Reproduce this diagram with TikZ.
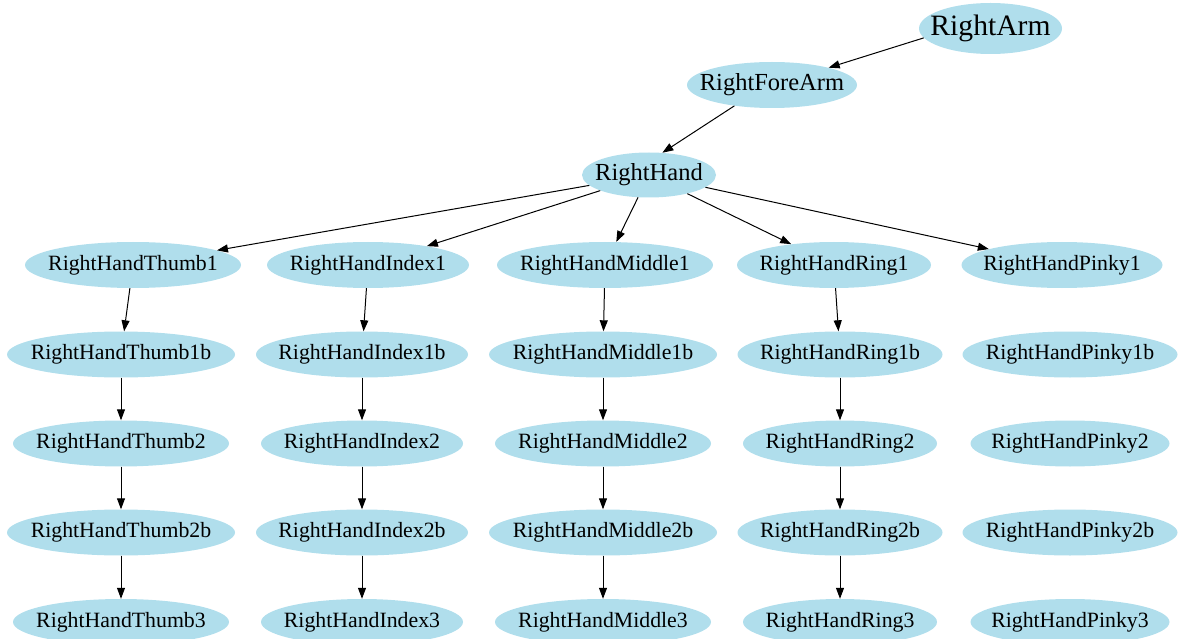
\documentclass[tikz,border=0pt]{standalone}
\usepackage{fontspec}
\setmainfont{Liberation Serif}
\usetikzlibrary{shapes.geometric,arrows.meta}
\definecolor{nodeblue}{HTML}{B0DEEC}
\tikzset{
  bone/.style={ellipse, fill=nodeblue, draw=none, inner xsep=-20pt, inner ysep=0pt,
    minimum height=46pt, font=\fontsize{21.8}{24}\selectfont},
  bigbone/.style={bone, font=\fontsize{24.5}{27}\selectfont},
  rootbone/.style={bone, minimum height=51pt, font=\fontsize{29.6}{32}\selectfont},
  link/.style={draw=black, line width=1pt, -{Triangle[length=11pt,width=8pt]}}
}
\begin{document}
\begin{tikzpicture}[x=1pt,y=-1pt]
\useasboundingbox (0,0) rectangle (1178,639);
\node[rootbone, minimum width=143pt] (arm) at (990.5,28.5) {RightArm};
\node[bigbone, minimum width=170pt] (fore) at (772,85) {RightForeArm};
\node[bigbone, minimum width=134pt, minimum height=45pt] (hand) at (649,175) {RightHand};
% row 1
\node[bone, minimum width=216pt] (t1) at (133,265) {RightHandThumb1};
\node[bone, minimum width=202pt] (i1) at (368,265) {RightHandIndex1};
\node[bone, minimum width=216pt] (m1) at (605,265) {RightHandMiddle1};
\node[bone, minimum width=194pt] (r1) at (834,265) {RightHandRing1};
\node[bone, minimum width=201pt] (p1) at (1062,265) {RightHandPinky1};
% row 2
\node[bone, minimum width=228pt] (t1b) at (121,354.5) {RightHandThumb1b};
\node[bone, minimum width=212pt] (i1b) at (362,354.5) {RightHandIndex1b};
\node[bone, minimum width=228pt] (m1b) at (603,354.5) {RightHandMiddle1b};
\node[bone, minimum width=205pt] (r1b) at (840,354.5) {RightHandRing1b};
\node[bone, minimum width=215pt] (p1b) at (1070,354.5) {RightHandPinky1b};
% row 3
\node[bone, minimum width=216pt] (t2) at (121,443.5) {RightHandThumb2};
\node[bone, minimum width=202pt] (i2) at (362,443.5) {RightHandIndex2};
\node[bone, minimum width=216pt] (m2) at (603,443.5) {RightHandMiddle2};
\node[bone, minimum width=194pt] (r2) at (840,443.5) {RightHandRing2};
\node[bone, minimum width=199pt] (p2) at (1070,443.5) {RightHandPinky2};
% row 4
\node[bone, minimum width=228pt] (t2b) at (121,532.5) {RightHandThumb2b};
\node[bone, minimum width=212pt] (i2b) at (362,532.5) {RightHandIndex2b};
\node[bone, minimum width=228pt] (m2b) at (603,532.5) {RightHandMiddle2b};
\node[bone, minimum width=205pt] (r2b) at (840,532.5) {RightHandRing2b};
\node[bone, minimum width=215pt] (p2b) at (1070,532.5) {RightHandPinky2b};
% row 5
\node[bone, minimum width=216pt] (t3) at (121,622) {RightHandThumb3};
\node[bone, minimum width=202pt] (i3) at (362,622) {RightHandIndex3};
\node[bone, minimum width=216pt] (m3) at (603,622) {RightHandMiddle3};
\node[bone, minimum width=194pt] (r3) at (840,622) {RightHandRing3};
\node[bone, minimum width=199pt] (p3) at (1070,622) {RightHandPinky3};
% edges
\draw[link] (arm.188) -- (fore.17);
\draw[link] (fore.209) -- (hand.59);
\foreach \n in {t1,i1,m1,r1,p1} \draw[link] (hand) -- (\n);
\foreach \a/\b in {t1/t1b,t1b/t2,t2/t2b,t2b/t3,
                   i1/i1b,i1b/i2,i2/i2b,i2b/i3,
                   m1/m1b,m1b/m2,m2/m2b,m2b/m3,
                   r1/r1b,r1b/r2,r2/r2b,r2b/r3}
  \draw[link] (\a) -- (\b);
\end{tikzpicture}
\end{document}
